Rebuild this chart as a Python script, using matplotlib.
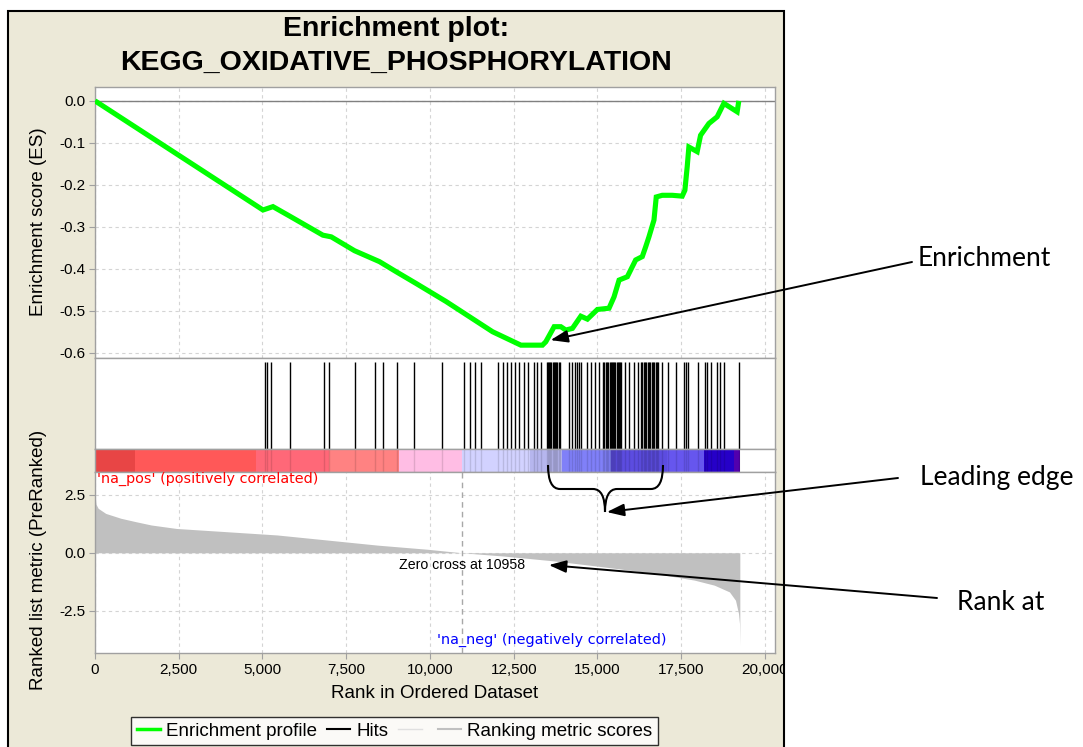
import matplotlib
matplotlib.use("Agg")
import matplotlib.pyplot as plt
from matplotlib.patches import Rectangle, PathPatch
from matplotlib.path import Path
from matplotlib.lines import Line2D
from matplotlib.transforms import Bbox, TransformedBbox

# ---------------- data ----------------
es_rank = [0, 5015, 5313, 5810, 6803, 7053, 7747, 8492, 8990, 9585, 10480, 11868,
           12714, 13357, 13457, 13707, 13906, 14055, 14253, 14503, 14700, 14998,
           15345, 15495, 15645, 15892, 16041, 16141, 16338, 16438, 16537, 16687,
           16755, 16934, 17232, 17530, 17610, 17679, 17729, 17977, 18078, 18326,
           18573, 18773, 19170, 19220]
es_score = [0.0, -0.260, -0.252, -0.2745, -0.320, -0.324, -0.357, -0.383, -0.407,
            -0.435, -0.478, -0.550, -0.582, -0.582, -0.574, -0.538, -0.538, -0.546,
            -0.542, -0.513, -0.520, -0.497, -0.494, -0.467, -0.427, -0.419, -0.395,
            -0.379, -0.371, -0.348, -0.324, -0.284, -0.229, -0.225, -0.225, -0.227,
            -0.213, -0.157, -0.110, -0.121, -0.082, -0.054, -0.038, -0.006, -0.026, 0.0]

hit_ranks = [5066, 5146, 5265, 5831, 6833, 6973, 7768, 8373, 8591, 9020, 9535, 10361,
             11004, 11195, 11332, 11523, 12018, 12167, 12290, 12410, 12540, 12650,
             12793, 12932, 13100, 13191, 13310,
             13489, 13520, 13555, 13590, 13625, 13660, 13695, 13730, 13765, 13800,
             13840, 13880,
             14154, 14254, 14340, 14383, 14450, 14520, 14680, 14800, 14940, 15040, 15160,
             15200, 15240, 15280, 15325, 15360, 15395, 15430, 15465, 15500, 15535,
             15570, 15605, 15640, 15675, 15700,
             15822, 15942, 16091, 16200, 16300,
             16340, 16380, 16420, 16460, 16500, 16540, 16580, 16620, 16660, 16700,
             16740, 16780, 16815,
             16934, 17100, 17333, 17580, 17640, 17700, 18000, 18207, 18280, 18376,
             18554, 18654, 18773, 19219]

metric_rank = [0, 30, 95, 321, 774, 1228, 1680, 2434, 3935, 5434, 6938, 8438, 9940,
               10958, 12190, 13690, 15190, 16690, 17890, 18490, 18940, 19120, 19210,
               19240, 19250]
metric_value = [2.55, 2.10, 1.92, 1.70, 1.49, 1.34, 1.20, 1.05, 0.91, 0.77, 0.55, 0.33,
                0.15, 0.0, -0.14, -0.35, -0.61, -0.89, -1.18, -1.40, -1.69, -2.05,
                -2.62, -3.05, -4.0]
zero_cross = 10958

bar_edges = [0, 1190, 4800, 7000, 9090, 10970, 13000, 13950, 15400, 17080, 18180,
             19070, 19250]
bar_colors = ["#E84545", "#FF5858", "#FF6878", "#FF8282", "#FFBDE4", "#D2D2FF",
              "#B6B6EE", "#8080F8", "#5C4CE0", "#6656EE", "#2600C8", "#5200AE"]

rank_ticks = [0, 2500, 5000, 7500, 10000, 12500, 15000, 17500, 20000]
rank_tick_labels = ["0", "2,500", "5,000", "7,500", "10,000", "12,500", "15,000",
                    "17,500", "20,000"]
es_ticks = [0.0, -0.1, -0.2, -0.3, -0.4, -0.5, -0.6]
es_tick_labels = ["0.0", "-0.1", "-0.2", "-0.3", "-0.4", "-0.5", "-0.6"]
metric_ticks = [2.5, 0.0, -2.5]
metric_tick_labels = ["2.5", "0.0", "-2.5"]

# ---------------- layout helpers ----------------
W, H = 1083, 747
def fx(x):
    return x / W
def fy(y):
    return 1 - y / H

plt.rcParams["font.family"] = ["Liberation Sans", "DejaVu Sans"]
FRAME = "#A0A0A0"
GRID = "#D4D4D4"
XMAX = 20300

fig = plt.figure(figsize=(W / 100, H / 100), dpi=100)
fig.patch.set_facecolor("white")

panel = Rectangle((fx(8), fy(760)), fx(784) - fx(8), fy(11) - fy(760),
                  transform=fig.transFigure, facecolor="#ECE9D8", edgecolor="black",
                  linewidth=1.5, zorder=-5)
fig.patches.append(panel)

left, width = fx(95), fx(775) - fx(95)
ax_es = fig.add_axes([left, fy(358), width, fy(87) - fy(358)])
ax_hit = fig.add_axes([left, fy(449), width, fy(358) - fy(449)])
ax_bar = fig.add_axes([left, fy(472), width, fy(449) - fy(472)])
ax_met = fig.add_axes([left, fy(653), width, fy(472) - fy(653)])

for ax in (ax_es, ax_hit, ax_bar, ax_met):
    ax.set_zorder(1)
    ax.set_xlim(0, XMAX)
    ax.set_facecolor("white")
    for s in ax.spines.values():
        s.set_color(FRAME)
        s.set_linewidth(1.0)

# enrichment score panel
ax_es.set_ylim(-0.6126, 0.033)
ax_es.set_xticks(rank_ticks)
ax_es.tick_params(axis="x", length=0, labelbottom=False)
ax_es.set_yticks(es_ticks)
ax_es.set_yticklabels(es_tick_labels)
ax_es.tick_params(axis="y", length=4, color=FRAME, labelsize=11, pad=3)
ax_es.grid(True, color=GRID, linestyle=(0, (3, 3)), linewidth=0.8)
ax_es.set_axisbelow(True)
ax_es.axhline(0, color="#808080", linewidth=1.0, zorder=1)
ax_es.plot(es_rank, es_score, color="#00FF00", linewidth=3.7, zorder=3,
           solid_joinstyle="miter", solid_capstyle="butt")

# hits panel
ax_hit.set_ylim(0, 1)
ax_hit.set_xticks([])
ax_hit.set_yticks([])
ax_hit.vlines(hit_ranks, 0, 0.96, color="black", linewidth=1.0)

# colour bar
ax_bar.set_ylim(0, 1)
ax_bar.set_xticks([])
ax_bar.set_yticks([])
widths = [b - a for a, b in zip(bar_edges[:-1], bar_edges[1:])]
ax_bar.bar(bar_edges[:-1], 1, width=widths, align="edge", color=bar_colors,
           linewidth=0)
ax_bar.vlines(hit_ranks, 0, 1, color="black", linewidth=1.0, alpha=0.12)

# ranked list metric panel
ax_met.set_ylim(-4.33, 3.49)
ax_met.set_xticks(rank_ticks)
ax_met.set_xticklabels(rank_tick_labels)
ax_met.set_yticks(metric_ticks)
ax_met.set_yticklabels(metric_tick_labels)
ax_met.tick_params(length=4, color=FRAME, labelsize=11, pad=3)
ax_met.grid(True, color=GRID, linestyle=(0, (3, 3)), linewidth=0.8)
ax_met.set_axisbelow(True)
ax_met.fill_between(metric_rank, metric_value, 0, color="#C0C0C0", linewidth=0,
                    zorder=2)
ax_met.axvline(zero_cross, color="#A8A8A8", linestyle=(0, (4, 3)), linewidth=1.0,
               zorder=3)
ax_met.text(zero_cross, -0.53, f"Zero cross at {zero_cross}", ha="center",
            va="center", fontsize=10.2, color="black", zorder=4)
ax_met.text(60, 3.18, "'na_pos' (positively correlated)", ha="left", va="center",
            fontsize=10.4, color="#FF0000", family="DejaVu Sans")
ax_met.text(13630, -3.77, "'na_neg' (negatively correlated)", ha="center",
            va="center", fontsize=10.4, color="#0000FF", family="DejaVu Sans")

# clip tick labels at the panel edge
clip = TransformedBbox(Bbox([[fx(9), 0], [fx(783), 1]]), fig.transFigure)
for lab in ax_met.get_xticklabels():
    lab.set_clip_box(clip)
    lab.set_clip_on(True)

# titles and axis labels
fig.text(fx(396), fy(29), "Enrichment plot:", ha="center", va="center",
         fontsize=20.5, fontweight="bold")
fig.text(fx(396), fy(63), "KEGG_OXIDATIVE_PHOSPHORYLATION", ha="center",
         va="center", fontsize=20.5, fontweight="bold")
fig.text(fx(39), fy(222), "Enrichment score (ES)", rotation=90, ha="center",
         va="center", fontsize=13.5)
fig.text(fx(39), fy(560), "Ranked list metric (PreRanked)", rotation=90,
         ha="center", va="center", fontsize=13.5)
fig.text(fx(435), fy(693), "Rank in Ordered Dataset", ha="center", va="center",
         fontsize=13.5)

# legend
handles = [Line2D([], [], color="#00FF00", linewidth=2.5),
           Line2D([], [], color="black", linewidth=1.5),
           Line2D([], [], color="#E0E0E0", linewidth=1.0),
           Line2D([], [], color="#C0C0C0", linewidth=1.5)]
labels = ["Enrichment profile", "Hits", "", "Ranking metric scores"]
leg = fig.legend(handles, labels, loc="upper left",
                 bbox_to_anchor=(fx(131), fy(717)), ncol=4, fontsize=13.5,
                 frameon=True, fancybox=False, edgecolor="black",
                 handlelength=1.25, handletextpad=0.3, columnspacing=0.55,
                 borderpad=0.3, borderaxespad=0)
leg.get_frame().set_linewidth(1.0)

# callouts
arrow_style = dict(arrowstyle="-|>,head_length=0.7,head_width=0.25",
                   color="black", lw=1.4, mutation_scale=15, shrinkA=0,
                   shrinkB=0)
ax_es.annotate("", xy=(13600, -0.570), xycoords="data",
               xytext=(fx(912), fy(262)), textcoords="figure fraction",
               arrowprops=arrow_style, annotation_clip=False, zorder=10)
ax_met.annotate("", xy=(15280, 1.76), xycoords="data",
                xytext=(fx(898), fy(478)), textcoords="figure fraction",
                arrowprops=arrow_style, annotation_clip=False, zorder=10)
ax_met.annotate("", xy=(13550, -0.53), xycoords="data",
                xytext=(fx(937), fy(598)), textcoords="figure fraction",
                arrowprops=arrow_style, annotation_clip=False, zorder=10)

callout_font = dict(family=["Lato", "DejaVu Sans"], fontsize=19, va="center",
                    ha="left")
fig.text(fx(918), fy(259), "Enrichment", **callout_font)
fig.text(fx(920), fy(478), "Leading edge", **callout_font)
fig.text(fx(957), fy(603), "Rank at", **callout_font)

# curly brace over the leading edge
bx = [548, 548, 560, 593, 605, 605, 605, 617, 651, 663, 663]
by = [465, 489, 489, 489, 489, 512, 489, 489, 489, 489, 465]
verts = [(fx(x), fy(y)) for x, y in zip(bx, by)]
codes = [Path.MOVETO, Path.CURVE3, Path.CURVE3, Path.LINETO, Path.CURVE3,
         Path.CURVE3, Path.CURVE3, Path.CURVE3, Path.LINETO, Path.CURVE3,
         Path.CURVE3]
brace = PathPatch(Path(verts, codes), transform=fig.transFigure, fill=False,
                  edgecolor="black", linewidth=1.5, zorder=10)
fig.patches.append(brace)

fig.savefig("out.png", dpi=100)
